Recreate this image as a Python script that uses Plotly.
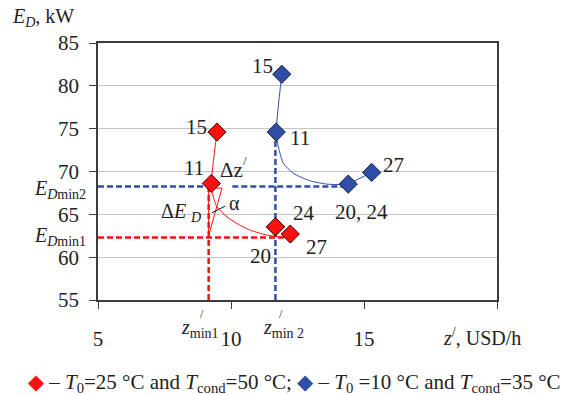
import plotly.graph_objects as go

# ---- data ----
red_labels = ["15", "11", "20", "24", "27"]
red_x = [9.47, 9.26, 11.67, 11.67, 12.23]
red_y = [74.6, 68.6, 63.55, 63.55, 62.7]

blue_labels = ["15", "11", "20, 24", "27"]
blue_x = [11.91, 11.70, 14.41, 15.29]
blue_y = [81.35, 74.6, 68.53, 69.89]

# fitted trend curves (vertices)
red_curve_x = [9.47, 9.256, 9.283, 9.47, 9.846, 10.22, 10.72, 11.35, 12.10]
red_curve_y = [74.62, 68.64, 67.63, 65.88, 64.71, 63.94, 63.16, 62.58, 62.27]
blue_curve_x = [11.91, 11.70, 11.78, 11.97, 12.35, 12.98, 13.60, 14.41]
blue_curve_y = [81.32, 74.62, 72.87, 70.94, 69.77, 68.91, 68.53, 68.45]

# reference levels
E_Dmin1, z_min1 = 62.3, 9.16
E_Dmin2, z_min2 = 68.25, 11.67
red_h_end = 12.12
blue_gap_start = 10.05
tri_top, tri_right = 68.06, 9.66

x_ticks = [5, 10, 15, 20]
x_ticklabels = ["5", "10", "15", ""]
y_ticks = [55, 60, 65, 70, 75, 80, 85]

RED = "#ff1010"
BLUE = "#2f4fa6"
FONT = "Liberation Serif"

W, H = 575, 395
ML, MR, MT, MB = 98, 78, 43, 95
PW, PH = W - ML - MR, H - MT - MB

fig = go.Figure()

dash = "6px,3px"
# dashed helper lines
fig.add_trace(go.Scatter(x=[5, red_h_end], y=[E_Dmin1, E_Dmin1], mode="lines",
                         line=dict(color=RED, width=2.5, dash=dash), hoverinfo="skip"))
fig.add_trace(go.Scatter(x=[z_min1, z_min1], y=[55, tri_top], mode="lines",
                         line=dict(color=RED, width=2.5, dash=dash), hoverinfo="skip"))
fig.add_trace(go.Scatter(x=[5, z_min1], y=[E_Dmin2, E_Dmin2], mode="lines",
                         line=dict(color=BLUE, width=2.5, dash=dash), hoverinfo="skip"))
fig.add_trace(go.Scatter(x=[blue_gap_start, blue_x[2]], y=[E_Dmin2, E_Dmin2], mode="lines",
                         line=dict(color=BLUE, width=2.5, dash=dash), hoverinfo="skip"))
fig.add_trace(go.Scatter(x=[z_min2, z_min2], y=[55, blue_y[1]], mode="lines",
                         line=dict(color=BLUE, width=2.5, dash=dash), hoverinfo="skip"))

# triangle
fig.add_trace(go.Scatter(x=[z_min1, tri_right, z_min1, z_min1], y=[tri_top, tri_top, E_Dmin1 + 0.2, tri_top],
                         mode="lines", line=dict(color=RED, width=1), hoverinfo="skip"))
# alpha pointer
fig.add_trace(go.Scatter(x=[9.283, 9.78], y=[65.18, 65.96], mode="lines",
                         line=dict(color="#111", width=1), hoverinfo="skip"))

# curves
fig.add_trace(go.Scatter(x=red_curve_x, y=red_curve_y, mode="lines",
                         line=dict(color=RED, width=1, shape="spline", smoothing=0.6), hoverinfo="skip"))
fig.add_trace(go.Scatter(x=blue_curve_x, y=blue_curve_y, mode="lines",
                         line=dict(color=BLUE, width=1, shape="spline", smoothing=0.6), hoverinfo="skip"))
fig.add_trace(go.Scatter(x=blue_x[2:4], y=blue_y[2:4], mode="lines",
                         line=dict(color=BLUE, width=1), hoverinfo="skip"))

# markers
fig.add_trace(go.Scatter(x=red_x, y=red_y, mode="markers",
                         marker=dict(symbol="diamond", size=14, color=RED,
                                     line=dict(color="#3a0505", width=1))))
fig.add_trace(go.Scatter(x=blue_x, y=blue_y, mode="markers",
                         marker=dict(symbol="diamond", size=14, color=BLUE,
                                     line=dict(color="#141e3c", width=1))))

# point labels (pixel offsets)
red_shift = [(-20, 5), (-17, 15), (-15, -29), (29, 14), (26, -13)]
blue_shift = [(-19, 8), (24, -6), (13, -28), (22, 7)]
for lab, x, y, (dx, dy) in zip(red_labels, red_x, red_y, red_shift):
    fig.add_annotation(x=x, y=y, text=lab, showarrow=False, xshift=dx, yshift=dy,
                       font=dict(family=FONT, size=21, color="#222"))
for lab, x, y, (dx, dy) in zip(blue_labels, blue_x, blue_y, blue_shift):
    fig.add_annotation(x=x, y=y, text=lab, showarrow=False, xshift=dx, yshift=dy,
                       font=dict(family=FONT, size=21, color="#222"))


def annp(xp, yp, text, size=21, xanchor="center"):
    # pixel position in the page -> paper coords (relative to plot area)
    x = (xp - ML) / PW
    y = (H - MB - yp) / PH
    fig.add_annotation(x=x, y=y, xref="paper", yref="paper", text=text, showarrow=False,
                       xanchor=xanchor, yanchor="middle",
                       font=dict(family=FONT, size=size, color="#222"))


annp(10, 18, "<i>E<sub>D</sub></i>, kW", 20, "left")
annp(88, 189, "<i>E</i><sub><i>D</i>min2</sub>", 20, "right")
annp(88, 236, "<i>E</i><sub><i>D</i>min1</sub>", 20, "right")
annp(231, 170, "Δz", 21)
annp(245, 160, "/", 13)
annp(181, 212, "Δ<i>E</i> <sub><i>D</i></sub>", 20)
annp(234, 203, "α", 20)
annp(200, 328, "<i>z</i><sub>min1</sub>", 20)
annp(202, 314, "/", 12)
annp(283, 328, "<i>z</i><sub>min 2</sub>", 20)
annp(281, 314, "/", 12)
annp(482, 337, "<i>z</i><sup>/</sup>, USD/h", 20)
annp(294, 383, "<span style='color:#ff1010'>◆</span> – <i>T</i><sub>0</sub>=25 °C and "
     "<i>T</i><sub>cond</sub>=50 °C; <span style='color:#2f4fa6'>◆</span> – "
     "<i>T</i><sub>0</sub> =10 °C and <i>T</i><sub>cond</sub>=35 °C", 21)

fig.update_layout(
    width=W, height=H,
    margin=dict(l=ML, r=MR, t=MT, b=MB),
    paper_bgcolor="white", plot_bgcolor="white",
    showlegend=False,
    font=dict(family=FONT, size=21, color="#222"),
)
fig.update_xaxes(range=[5, 20], tickvals=x_ticks, ticktext=x_ticklabels,
                 showgrid=False, zeroline=False, showline=True, mirror=True,
                 linecolor="#3c3c3c", linewidth=1.5, ticks="outside", ticklen=7,
                 tickcolor="#3c3c3c", ticklabelstandoff=12,
                 tickfont=dict(family=FONT, size=21, color="#222"))
fig.update_yaxes(range=[55, 85], tickvals=y_ticks,
                 showgrid=True, gridcolor="#c4c4c4", gridwidth=1, zeroline=False,
                 showline=True, mirror=True, linecolor="#3c3c3c", linewidth=1.5,
                 ticks="outside", ticklen=7, tickcolor="#3c3c3c", ticklabelstandoff=6,
                 tickfont=dict(family=FONT, size=21, color="#222"))

fig.write_html("out.html")
